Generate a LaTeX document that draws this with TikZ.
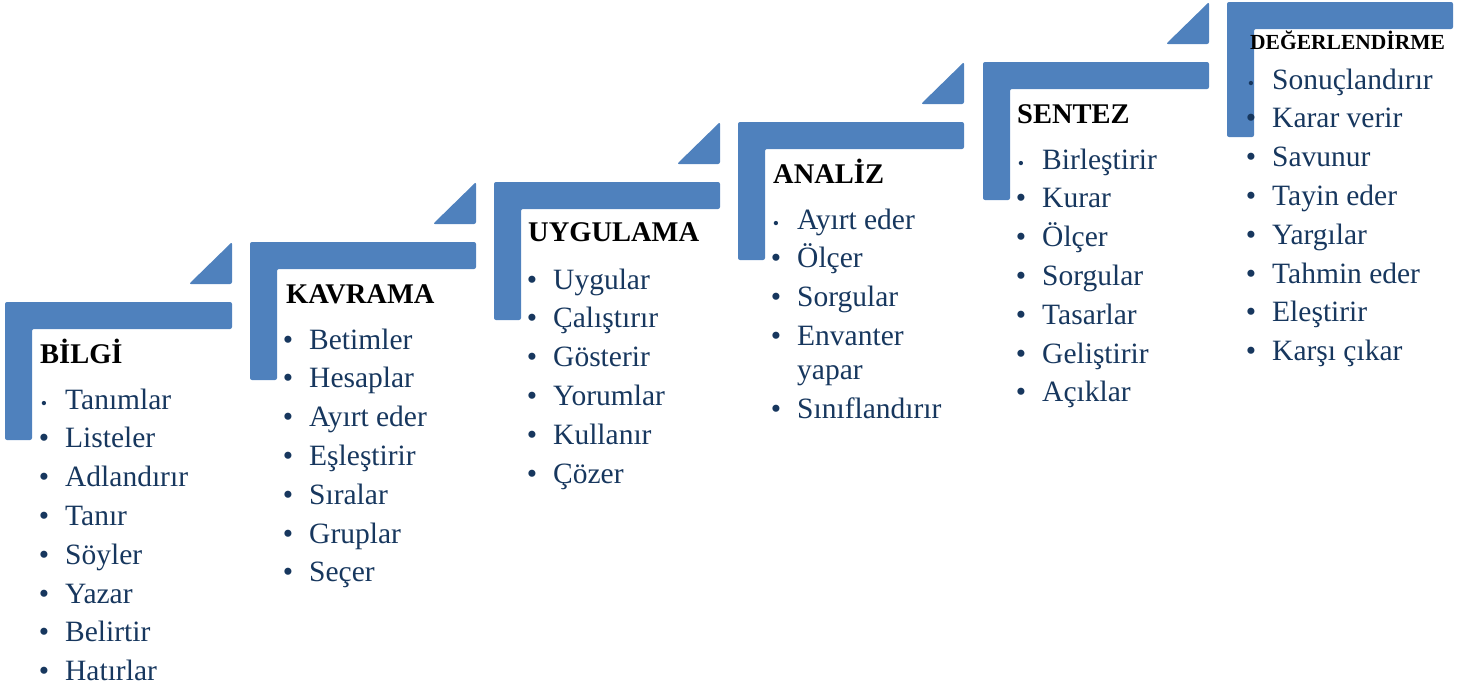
\documentclass[tikz,border=0pt]{standalone}
\usepackage{fontspec}
\setmainfont{Liberation Serif}
\definecolor{stepblue}{HTML}{4F81BD}
\definecolor{itemblue}{HTML}{17375E}
\tikzset{
  stepshape/.style={fill=stepblue, draw=none, rounded corners=2pt},
  head/.style={anchor=base west, inner sep=0pt, font=\bfseries\fontsize{28.5}{28}\selectfont, text=black},
  smallhead/.style={anchor=base west, inner sep=0pt, font=\bfseries\fontsize{21.5}{20}\selectfont, text=black},
  item/.style={anchor=base west, inner sep=0pt, font=\fontsize{29.5}{34}\selectfont, text=itemblue},
  bul/.style={anchor=base, inner sep=0pt, font=\fontsize{29.5}{34}\selectfont, text=itemblue},
  smallbul/.style={anchor=base, inner sep=0pt, font=\fontsize{18}{20}\selectfont, text=itemblue},
}
\newcommand{\stepL}[4]{% L T R B
  \fill[stepshape] (#1,#2) -- (#3,#2) -- (#3,#2+27) -- (#1+27,#2+27) -- (#1+27,#4) -- (#1,#4) -- cycle;
}
\newcommand{\stepTri}[2]{% R T
  \fill[stepblue, rounded corners=2pt] (#1-43,#2-18) -- (#1,#2-18) -- (#1,#2-60) -- cycle;
}
\newcommand{\itemlist}[5]{% prefix, x, y0, firstsmall(1/0), list
  \foreach \t [count=\k from 0] in {#5} {
    \pgfmathsetmacro{\yy}{#3+38.8*\k}
    \ifnum\k=0
      \ifnum#4=1
        \node[smallbul] (#1b\k) at (#2-21,\yy) {\textbullet};
      \else
        \node[bul] (#1b\k) at (#2-21,\yy) {\textbullet};
      \fi
    \else
      \node[bul] (#1b\k) at (#2-21,\yy) {\textbullet};
    \fi
    \node[item] (#1t\k) at (#2,\yy) {\t};
  }
}
\begin{document}
\begin{tikzpicture}[x=1pt,y=-1pt]
\useasboundingbox (0,0) rectangle (1474,691);
% shapes
\stepL{5}{302}{232}{440}\stepTri{232}{302}
\stepL{250}{242}{476}{380}\stepTri{476}{242}
\stepL{494}{182}{720}{320}\stepTri{720}{182}
\stepL{738}{122}{964}{260}\stepTri{964}{122}
\stepL{983}{62}{1209}{200}\stepTri{1209}{62}
\stepL{1227}{2}{1453}{137}
% headers
\node[head] (h1) at (40,363) {BİLGİ};
\node[head] (h2) at (286,303) {KAVRAMA};
\node[head] (h3) at (528,241) {UYGULAMA};
\node[head] (h4) at (773,183) {ANALİZ};
\node[head] (h5) at (1017,123) {SENTEZ};
\node[smallhead] (h6) at (1250,49) {DEĞERLENDİRME};
% items
\itemlist{a}{65}{409}{1}{Tanımlar,Listeler,Adlandırır,Tanır,Söyler,Yazar,Belirtir,Hatırlar}
\itemlist{b}{309}{349}{0}{Betimler,Hesaplar,Ayırt eder,Eşleştirir,Sıralar,Gruplar,Seçer}
\itemlist{c}{553}{289}{0}{Uygular,Çalıştırır,Gösterir,Yorumlar,Kullanır,Çözer}
\itemlist{d}{797}{229}{1}{Ayırt eder,Ölçer,Sorgular,Envanter}
\node[item] (dt4) at (797,{229+38.8*3+34}) {yapar};
\node[bul] (db5) at (776,{229+38.8*4+34}) {\textbullet};
\node[item] (dt5) at (797,{229+38.8*4+34}) {Sınıflandırır};
\itemlist{e}{1042}{169}{1}{Birleştirir,Kurar,Ölçer,Sorgular,Tasarlar,Geliştirir,Açıklar}
\itemlist{f}{1272}{89}{1}{Sonuçlandırır,Karar verir,Savunur,Tayin eder,Yargılar,Tahmin eder,Eleştirir,Karşı çıkar}
\end{tikzpicture}
\end{document}
